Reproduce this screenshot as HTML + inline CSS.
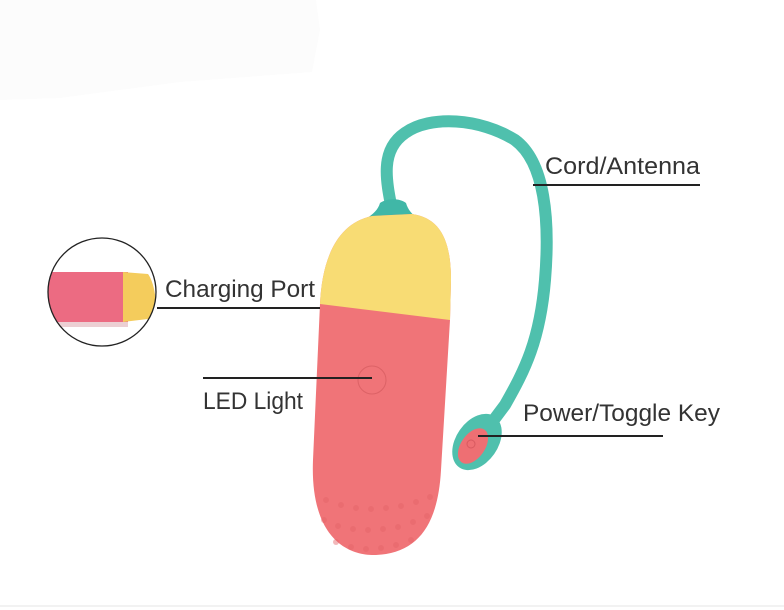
<!DOCTYPE html>
<html><head><meta charset="utf-8"><style>
html,body{margin:0;padding:0;background:#fff}
svg{display:block}
text{font-family:"Liberation Sans",sans-serif;font-size:24px;fill:#333}
</style></head><body>
<svg width="784" height="610" viewBox="0 0 784 610" xmlns="http://www.w3.org/2000/svg">
<path d="M0 0 L316 0 L320 30 L312 72 L180 82 L60 98 L0 100 Z" fill="#fcfcfc"/>
<!-- cord -->
<path d="M392 210 C386 180 380 150 405 133 C430 115 480 118 515 140 C545 162 550 220 545 280 C540 340 525 370 505 405 L490 425" fill="none" stroke="#4fc0ad" stroke-width="12" stroke-linecap="round"/>
<!-- head -->
<ellipse cx="477" cy="442" rx="21" ry="31" transform="rotate(35 477 442)" fill="#4fc0ad"/>
<ellipse cx="473" cy="446" rx="12" ry="20" transform="rotate(35 473 446)" fill="#ee6f73"/>
<circle cx="471" cy="444" r="4" fill="none" stroke="#d85a60" stroke-width="1"/>
<!-- neck -->
<path d="M380 203 C387 198 400 198 406 203 C408 210 412 214 418 219 L366 219 C373 214 378 210 380 203 Z" fill="#40b7a7"/>
<!-- body -->
<path d="M372 216 C335 224 322 262 320 304 L313 460 C310 535 345 556 376 555 C418 553 438 525 441 470 L450 320 L451 280 C451 240 440 218 412 214 Z" fill="#f07478"/>
<path d="M372 216 C335 224 322 262 320 304 L450 320 L451 280 C451 240 440 218 412 214 Z" fill="#f8dc74"/>
<circle cx="372" cy="380" r="14" fill="none" stroke="#dc6266" stroke-width="1"/>
<g fill="#e46468" opacity="0.45">
<circle cx="326" cy="500" r="3"/><circle cx="341" cy="505" r="3"/><circle cx="356" cy="508" r="3"/><circle cx="371" cy="509" r="3"/><circle cx="386" cy="508" r="3"/><circle cx="401" cy="506" r="3"/><circle cx="416" cy="502" r="3"/><circle cx="430" cy="497" r="3"/>
<circle cx="324" cy="520" r="3"/><circle cx="338" cy="526" r="3"/><circle cx="353" cy="529" r="3"/><circle cx="368" cy="530" r="3"/><circle cx="383" cy="529" r="3"/><circle cx="398" cy="527" r="3"/><circle cx="413" cy="522" r="3"/><circle cx="427" cy="516" r="3"/>
<circle cx="336" cy="542" r="3"/><circle cx="351" cy="547" r="3"/><circle cx="366" cy="549" r="3"/><circle cx="381" cy="548" r="3"/><circle cx="396" cy="545" r="3"/><circle cx="411" cy="540" r="3"/>
</g>
<!-- inset -->
<defs><clipPath id="c"><circle cx="102" cy="292" r="54"/></clipPath></defs>
<g clip-path="url(#c)">
<rect x="40" y="272" width="88" height="50" fill="#ec6b82"/>
<path d="M123 272 L148 274 C154 282 157 300 156 318 L123 322 Z" fill="#f4cc5c"/>
<rect x="40" y="322" width="88" height="5" fill="#d9a0a8" opacity="0.5"/>
</g>
<circle cx="102" cy="292" r="54" fill="none" stroke="#222" stroke-width="1.3"/>
<!-- labels -->
<g stroke="#222" stroke-width="2">
<line x1="533" y1="185" x2="700" y2="185"/>
<line x1="157" y1="308" x2="320" y2="308"/>
<line x1="203" y1="378" x2="372" y2="378"/>
<line x1="478" y1="436" x2="663" y2="436"/>
</g>
<text x="545" y="174" textLength="155" lengthAdjust="spacingAndGlyphs">Cord/Antenna</text>
<text x="165" y="297" textLength="150" lengthAdjust="spacingAndGlyphs">Charging Port</text>
<text x="203" y="409" textLength="100" lengthAdjust="spacingAndGlyphs">LED Light</text>
<text x="523" y="421" textLength="197" lengthAdjust="spacingAndGlyphs">Power/Toggle Key</text>
<line x1="0" y1="606" x2="784" y2="606" stroke="#f2f2f2" stroke-width="2"/>
</svg>
</body></html>
